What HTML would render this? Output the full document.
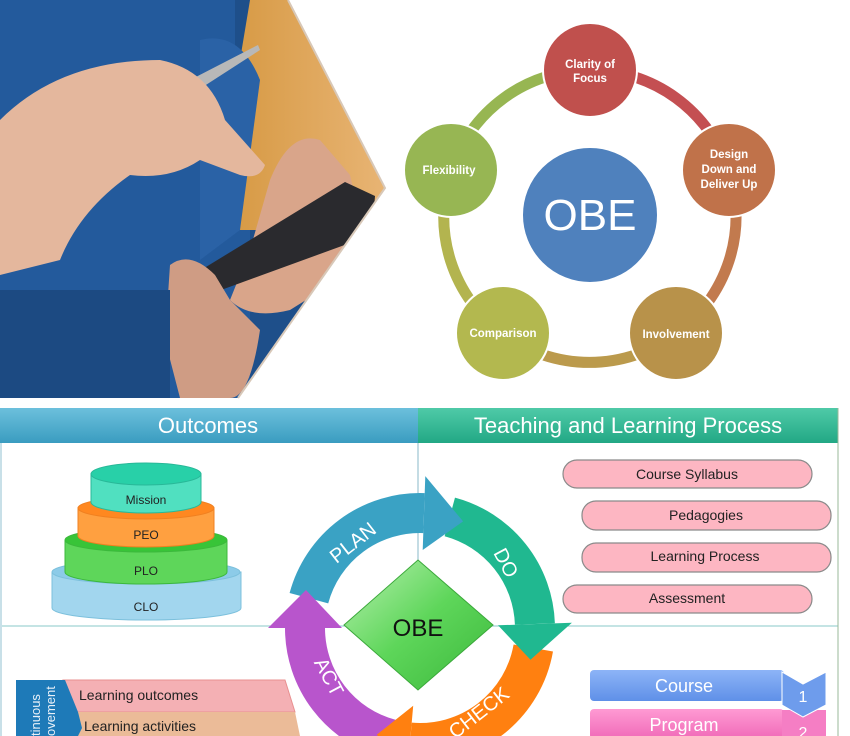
<!DOCTYPE html>
<html><head><meta charset="utf-8"><style>
html,body{margin:0;padding:0;background:#fff;width:850px;height:736px;overflow:hidden;}
svg{display:block;font-family:"Liberation Sans",sans-serif;}
</style></head><body>
<svg width="850" height="736" viewBox="0 0 850 736" xmlns="http://www.w3.org/2000/svg">
<defs>
<clipPath id="ph"><polygon points="0,0 288,0 385,188 238,398 0,398"/></clipPath>
<linearGradient id="bg1" x1="0" y1="0" x2="1" y2="0"><stop offset="0" stop-color="#d79a45"/><stop offset="1" stop-color="#e9b677"/></linearGradient>
<linearGradient id="hO" x1="0" y1="0" x2="0" y2="1"><stop offset="0" stop-color="#6cc0dc"/><stop offset="1" stop-color="#3a9cc0"/></linearGradient>
<linearGradient id="hT" x1="0" y1="0" x2="0" y2="1"><stop offset="0" stop-color="#4fcaa8"/><stop offset="1" stop-color="#22a885"/></linearGradient>
<linearGradient id="dia" x1="0" y1="0" x2="1" y2="1"><stop offset="0" stop-color="#b8f0b0"/><stop offset="0.5" stop-color="#5ed65a"/><stop offset="1" stop-color="#3cb83c"/></linearGradient>
<linearGradient id="cb" x1="0" y1="0" x2="0" y2="1"><stop offset="0" stop-color="#8db4f7"/><stop offset="1" stop-color="#5f90e8"/></linearGradient>
<linearGradient id="pb" x1="0" y1="0" x2="0" y2="1"><stop offset="0" stop-color="#ff9ad3"/><stop offset="1" stop-color="#f06ab8"/></linearGradient>
</defs>

<!-- photo -->
<g clip-path="url(#ph)">
<rect x="0" y="0" width="390" height="400" fill="#1e4f8a"/>
<rect x="0" y="0" width="250" height="400" fill="#235a9c"/>
<rect x="235" y="0" width="160" height="230" fill="url(#bg1)"/>
<path d="M235,0 L250,0 L240,60 L235,230 Z" fill="#1e4f8a"/>
<path d="M200,40 Q240,30 260,80 L240,230 L200,260 Z" fill="#2a62a6"/>
<polygon points="190,80 258,45 260,50 195,92" fill="#b8b8b8"/>
<path d="M0,120 Q60,60 160,60 Q210,70 225,120 L265,165 Q260,180 240,175 L200,160 Q170,180 130,175 Q80,210 60,260 L0,275 Z" fill="#e4b79d"/>
<path d="M270,180 Q290,130 320,140 L350,175 L370,260 L290,310 Q250,320 230,300 L250,250 Z" fill="#d9a58a"/>
<polygon points="165,292 345,182 375,196 372,235 180,305" fill="#2a2a2e"/>
<path d="M170,265 Q190,250 215,275 L230,300 L260,330 Q250,398 230,398 L180,398 L165,340 Z" fill="#cf9c84"/>
<rect x="0" y="290" width="170" height="110" fill="#1c4a82"/>
</g>
<polyline points="288,0 385,188 238,398" fill="none" stroke="#d8c8b8" stroke-width="2"/>

<!-- OBE ring -->
<path d="M590,70 A146,146 0 0 1 729,171" fill="none" stroke="#c44f52" stroke-width="11"/>
<path d="M729,171 A146,146 0 0 1 676,334" fill="none" stroke="#c27a4e" stroke-width="11"/>
<path d="M676,334 A146,146 0 0 1 503,334" fill="none" stroke="#bb9a4c" stroke-width="11"/>
<path d="M503,334 A146,146 0 0 1 451,171" fill="none" stroke="#b3b44f" stroke-width="11"/>
<path d="M451,171 A146,146 0 0 1 590,70" fill="none" stroke="#97b652" stroke-width="11"/>
<g stroke="#fff" stroke-width="2">
<circle cx="590" cy="70" r="47" fill="#c0504d"/>
<circle cx="729" cy="170" r="47" fill="#c0724a"/>
<circle cx="676" cy="333" r="47" fill="#b8924a"/>
<circle cx="503" cy="333" r="47" fill="#b3b84f"/>
<circle cx="451" cy="170" r="47" fill="#97b653"/>
<circle cx="590" cy="215" r="68" fill="#4f81bd"/>
</g>
<g fill="#fff" font-size="11.5" font-weight="bold" text-anchor="middle">
<text x="590" y="68">Clarity of</text><text x="590" y="82">Focus</text>
<text x="729" y="158">Design</text><text x="729" y="173">Down and</text><text x="729" y="188">Deliver Up</text>
<text x="676" y="338">Involvement</text>
<text x="503" y="337">Comparison</text>
<text x="449" y="174">Flexibility</text>
</g>
<text x="590" y="230" fill="#fff" font-size="44" text-anchor="middle">OBE</text>

<!-- bottom frame -->
<rect x="0" y="408" width="418" height="35" fill="url(#hO)"/>
<rect x="418" y="408" width="420" height="35" fill="url(#hT)"/>
<text x="208" y="433" fill="#fff" font-size="22" text-anchor="middle">Outcomes</text>
<text x="628" y="433" fill="#fff" font-size="22" text-anchor="middle">Teaching and Learning Process</text>
<line x1="418" y1="443" x2="418" y2="626" stroke="#8ab8c8" stroke-width="1"/>
<line x1="0" y1="626" x2="838" y2="626" stroke="#8ac8c8" stroke-width="1"/>
<line x1="838" y1="408" x2="838" y2="736" stroke="#9ab89a" stroke-width="1"/>
<line x1="1" y1="443" x2="1" y2="736" stroke="#c8e0e8" stroke-width="2"/>

<!-- pyramid -->
<g stroke="#7cc0dc" stroke-width="1">
<path d="M52,572 L52,608 A94,12 0 0 0 241,608 L241,572 Z" fill="#a2d6ee"/>
<ellipse cx="146" cy="572" rx="94" ry="12" fill="#8ccbe8"/>
</g>
<g stroke="#3cb83c" stroke-width="1">
<path d="M65,540 L65,572 A81,12 0 0 0 227,572 L227,540 Z" fill="#5ed65a"/>
<ellipse cx="146" cy="540" rx="81" ry="12" fill="#38c438"/>
</g>
<g stroke="#f08020" stroke-width="1">
<path d="M78,508 L78,536 A68,11 0 0 0 214,536 L214,508 Z" fill="#ffa040"/>
<ellipse cx="146" cy="508" rx="68" ry="11" fill="#ff8820"/>
</g>
<g stroke="#28b898" stroke-width="1">
<path d="M91,474 L91,502 A55,11 0 0 0 201,502 L201,474 Z" fill="#50e0c0"/>
<ellipse cx="146" cy="474" rx="55" ry="11" fill="#28d0a8"/>
</g>
<g fill="#222" font-size="12" text-anchor="middle">
<text x="146" y="504">Mission</text><text x="146" y="539">PEO</text><text x="146" y="575">PLO</text><text x="146" y="611">CLO</text>
</g>

<!-- pills -->
<g fill="#fdb6c2" stroke="#8a8a8a" stroke-width="1.2">
<rect x="563" y="460" width="249" height="28" rx="14"/>
<rect x="582" y="501" width="249" height="29" rx="14"/>
<rect x="582" y="543" width="249" height="29" rx="14"/>
<rect x="563" y="585" width="249" height="28" rx="14"/>
</g>
<g fill="#222" font-size="14" text-anchor="middle">
<text x="687" y="479">Course Syllabus</text>
<text x="706" y="520">Pedagogies</text>
<text x="705" y="561">Learning Process</text>
<text x="687" y="603">Assessment</text>
</g>

<!-- PDCA -->
<g fill="none" stroke-width="40">
<path d="M533.3,648 A115,115 0 0 1 410,742.6" stroke="#ff8010"/>
<path d="M390.2,739.1 A115,115 0 0 1 305,628" stroke="#b855cc"/>
<path d="M449.8,516.9 A115,115 0 0 1 534.9,624" stroke="#20b890"/>
<path d="M308.9,598.2 A115,115 0 0 1 424,513.1" stroke="#3aa2c4"/>
</g>
<polygon points="413.2,705.7 406.7,779.4 376.9,734.6" fill="#ff8010"/>
<polygon points="342,628 268,628 306,590" fill="#b855cc"/>
<polygon points="498,625.3 571.9,622.7 530.5,659.7" fill="#20b890"/>
<polygon points="422.7,550 425.3,476.1 463.1,521.4" fill="#3aa2c4"/>
<g fill="#fff" font-size="20" text-anchor="middle">
<text transform="translate(357,548) rotate(-38)">PLAN</text>
<text transform="translate(500,566) rotate(62)">DO</text>
<text transform="translate(483,718) rotate(-38)">CHECK</text>
<text transform="translate(323,680) rotate(62)">ACT</text>
</g>
<polygon points="418,560 493,625 418,690 344,625" fill="url(#dia)" stroke="#3aa83a" stroke-width="1"/>
<text x="418" y="636" fill="#111" font-size="24" text-anchor="middle">OBE</text>

<!-- course/program -->
<rect x="590" y="670" width="194" height="31" rx="4" fill="url(#cb)"/>
<rect x="590" y="709" width="194" height="30" rx="4" fill="url(#pb)"/>
<polygon points="782,710 826,710 826,736 782,736" fill="#f57ec4"/>
<polygon points="782,672 803,684 826,672 826,705 803,717 782,705" fill="#6e9cec" stroke="#fff" stroke-width="1"/>
<g fill="#fff" font-size="18" text-anchor="middle">
<text x="684" y="692">Course</text>
<text x="684" y="731">Program</text>
<text x="803" y="702" font-size="16">1</text>
<text x="803" y="738" font-size="16">2</text>
</g>

<!-- left bottom -->
<polygon points="63,680 285,680 295,712 75,712" fill="#f4b0b4" stroke="#e89090" stroke-width="1"/>
<polygon points="72,712 295,712 300,736 75,736" fill="#ebbb98"/>
<polygon points="16,680 65,680 78,712 82,728 78,736 16,736" fill="#1e7ab8"/>
<g fill="#222" font-size="14">
<text x="79" y="700">Learning outcomes</text>
<text x="84" y="731">Learning activities</text>
</g>
<g fill="#e8f0f8" font-size="13">
<text transform="translate(40,736) rotate(-90)">tinuous</text>
<text transform="translate(55,736) rotate(-90)">ovement</text>
</g>
</svg>
</body></html>
